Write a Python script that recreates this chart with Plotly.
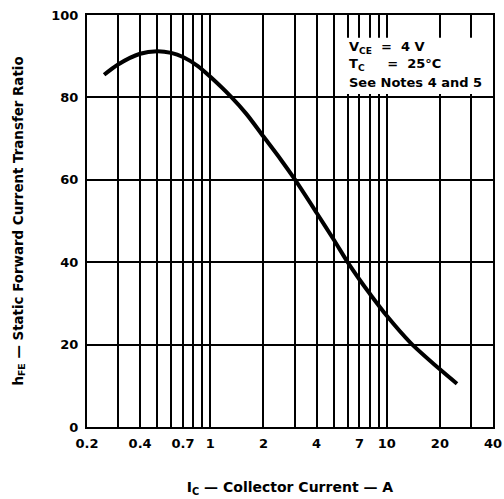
import plotly.graph_objects as go

# Data
ic_amps = [0.25, 0.3, 0.4, 0.5, 0.6, 0.7, 0.85, 1.0, 1.3, 1.6, 2.0, 2.5, 3.0, 4.0, 5.0, 6.0, 7.0, 8.0, 10.0, 13.6, 20.0, 25.0]
hfe = [85.5, 88.0, 90.6, 91.2, 90.8, 89.8, 87.6, 85.0, 80.3, 76.0, 70.5, 65.0, 60.2, 52.0, 45.5, 40.0, 35.8, 32.4, 27.0, 20.5, 14.0, 10.5]

grid_x = [0.2, 0.3, 0.4, 0.5, 0.6, 0.7, 0.8, 0.9, 1, 2, 3, 4, 5, 6, 7, 8, 9, 10, 20, 30, 40]
labeled_x = {0.2: "0.2", 0.4: "0.4", 0.7: "0.7", 1: "1", 2: "2", 4: "4", 7: "7", 10: "10", 20: "20", 40: "40"}
y_ticks = [0, 20, 40, 60, 80, 100]

note_lines = ["V<sub>CE</sub>  =  4 V", "T<sub>C</sub>     =  25°C", "See Notes 4 and 5"]

FONT = "DejaVu Sans"

fig = go.Figure()
fig.add_trace(go.Scatter(
    x=ic_amps, y=hfe, mode="lines",
    line=dict(color="black", width=4, shape="spline", smoothing=0.8),
    showlegend=False, hoverinfo="skip",
))

fig.add_shape(type="rect", xref="x", yref="y", x0=5.5, x1=39.3, y0=80.8, y1=94.5,
              fillcolor="white", line=dict(width=0), layer="above")

for i, t in enumerate(note_lines):
    fig.add_annotation(x=0.64, xref="paper", y=1 - (33 + 17 * i) / 412, yref="paper",
                       text=t, showarrow=False, xanchor="left", yanchor="middle",
                       font=dict(family=FONT, size=13, color="black", weight="bold"))

fig.update_xaxes(
    type="log", range=[-0.69897, 1.60206],
    tickvals=grid_x, ticktext=[labeled_x.get(v, "") for v in grid_x],
    showgrid=True, gridcolor="black", gridwidth=1.6,
    showline=True, linecolor="black", linewidth=2, mirror=True,
    ticks="", ticklabelstandoff=3, automargin=False, ticklabeloverflow="allow",
    tickfont=dict(family=FONT, size=13, color="black", weight="bold"),
    title=dict(text="I<sub>C</sub> — Collector Current — A",
               font=dict(family=FONT, size=14, color="black", weight="bold"), standoff=33),
    zeroline=False,
)
fig.update_yaxes(
    range=[0, 100], tickvals=y_ticks,
    showgrid=True, gridcolor="black", gridwidth=1.6,
    showline=True, linecolor="black", linewidth=2, mirror=True,
    ticks="", ticklabelstandoff=4, automargin=False, ticklabeloverflow="allow",
    tickfont=dict(family=FONT, size=13, color="black", weight="bold"),
    title=dict(text="h<sub>FE</sub> — Static Forward Current Transfer Ratio",
               font=dict(family=FONT, size=13.4, color="black", weight="bold"), standoff=25),
    zeroline=False,
)

fig.update_layout(
    width=504, height=499,
    margin=dict(l=87, r=11, t=15, b=72),
    paper_bgcolor="white", plot_bgcolor="white",
)

# Remove the default page margin so the figure fills the window exactly; hide the modebar.
fig.write_html("out.html", config={"displayModeBar": False},
               post_script="document.body.style.margin='0';")
